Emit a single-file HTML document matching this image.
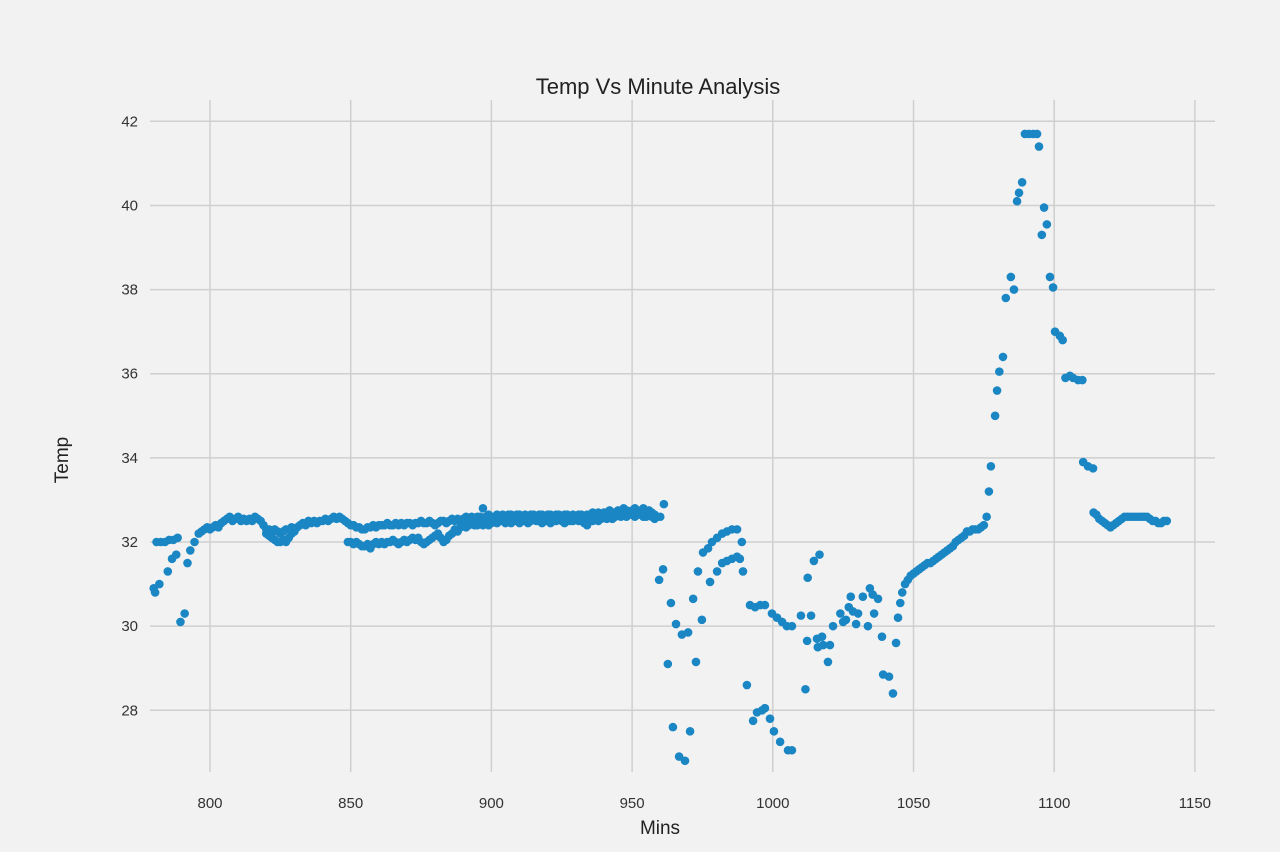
<!DOCTYPE html>
<html><head><meta charset="utf-8"><style>
html,body{margin:0;padding:0;background:#f2f2f2;}
svg{display:block;font-family:"Liberation Sans","DejaVu Sans",sans-serif;}
</style></head><body>
<svg id="chart" width="1280" height="852" viewBox="0 0 1280 852" xmlns="http://www.w3.org/2000/svg">
<rect width="1280" height="852" fill="#f2f2f2"/>
<g id="grid"></g>
<g id="ticks"></g>
<g id="points"></g>
<text x="658" y="94" text-anchor="middle" font-size="22" fill="#222">Temp Vs Minute Analysis</text>
<text x="660" y="834" text-anchor="middle" font-size="19" fill="#222">Mins</text>
<text x="68" y="460" text-anchor="middle" font-size="19" fill="#222" transform="rotate(-90 68 460)">Temp</text>
</svg>
<script>
const xTicks=[800,850,900,950,1000,1050,1100,1150];
const yTicks=[28,30,32,34,36,38,40,42];
const upperStart=797;
const upperTemps=[32.25,32.3,32.35,32.3,32.35,32.4,32.35,32.45,32.5,32.55,
32.6,32.5,32.55,32.6,32.5,32.55,32.5,32.55,32.5,32.6,
32.55,32.5,32.4,32.3,32.3,32.25,32.3,32.25,32.2,32.25,
32.3,32.3,32.35,32.3,32.35,32.4,32.45,32.4,32.5,32.45,
32.5,32.45,32.5,32.5,32.55,32.5,32.55,32.6,32.55,32.6,
32.55,32.5,32.45,32.4,32.4,32.35,32.35,32.3,32.3,32.35,
32.35,32.4,32.35,32.4,32.4,32.4,32.45,32.4,32.4,32.45,
32.4,32.45,32.4,32.45,32.45,32.4,32.45,32.45,32.5,32.45,
32.45,32.5,32.45,32.4,32.45,32.5,32.5,32.45,32.5,32.55,
32.5,32.55,32.5,32.55,32.6,32.55,32.6,32.55,32.6,32.6,
32.8,32.6,32.65,32.6,32.6,32.65,32.6,32.65,32.6,32.65,
32.65,32.6,32.65,32.65,32.6,32.65,32.6,32.65,32.65,32.6,
32.65,32.65,32.6,32.65,32.65,32.6,32.65,32.65,32.6,32.65,
32.65,32.6,32.65,32.6,32.65,32.65,32.6,32.65,32.6,32.7,
32.65,32.7,32.65,32.7,32.7,32.75,32.7,32.7,32.75,32.7,
32.8,32.75,32.7,32.75,32.8,32.7,32.75,32.8,32.7,32.75,
32.7,32.65,32.6,32.6];
const dipStart=820;
const dipTemps=[32.2,32.15,32.1,32.05,32.0,32.0,32.05,32.0,32.1,32.2,32.25];
const lowerStart=849;
const lowerTemps=[32.0,32.0,31.95,32.0,31.95,31.9,31.9,31.95,31.85,31.95,
32.0,31.95,32.0,31.95,32.0,32.0,32.05,32.0,31.95,32.0,
32.05,32.0,32.05,32.1,32.05,32.1,32.0,31.95,32.0,32.05,
32.1,32.15,32.2,32.1,32.0,32.05,32.15,32.2,32.3,32.25,
32.35,32.4,32.35,32.4,32.45,32.4,32.4,32.45,32.4,32.45,
32.4,32.45,32.5,32.45,32.5,32.5,32.45,32.5,32.45,32.5,
32.5,32.45,32.5,32.5,32.45,32.5,32.55,32.5,32.5,32.45,
32.5,32.5,32.45,32.5,32.5,32.55,32.5,32.45,32.5,32.5,
32.5,32.55,32.5,32.5,32.45,32.4,32.5,32.5,32.55,32.5,
32.55,32.6,32.55,32.6,32.55,32.6,32.65,32.6,32.65,32.6,
32.7,32.65,32.6,32.7,32.65,32.6,32.6,32.65,32.6,32.55];
const rampStart=1046;
const rampTemps=[30.8,31.0,31.1,31.2,31.25,31.3,31.35,31.4,31.45,31.5,
31.5,31.55,31.6,31.65,31.7,31.75,31.8,31.85,31.9,32.0,
32.05,32.1,32.15,32.25,32.25,32.3,32.3,32.3,32.35,32.4];
const tailStart=1114;
const tailTemps=[32.7,32.65,32.55,32.5,32.45,32.4,32.35,32.4,32.45,32.5,32.55,32.6,32.6,32.6,32.6,32.6,32.6,32.6,32.6,32.6,32.55,32.5,32.5,32.45,32.45,32.5,32.5];
const sparseMins=[780,780.5,782,785,786.5,788,781,782.5,784,785.5,787,788.5,789.5,791,792,793,794.5,796,
961.3,961,959.6,963.8,962.7,965.6,967.7,969.9,964.5,970.6,966.7,968.8,971.7,974.8,972.7,973.4,
975.2,977,978.4,980.2,982,983.7,985.5,987.3,989,977.7,980.2,982,983.7,985.5,987.3,988.3,989.4,990.8,
991.9,993.7,995.5,997.2,999.7,1001.5,1003.3,1005,1006.8,993,994.4,996.2,997.2,999,1000.4,1002.6,1005.4,1006.8,
1010,1011.6,1012.4,1014.6,1016.6,1013.6,1012.2,1015.7,1017.5,1016,1017.9,1020.3,1019.6,1021.4,1024,1025,1026,
1027.7,1027,1028.5,1030.3,1029.6,1032,1034.5,1035.5,1037.4,1033.8,1036,1038.8,1039.2,1041.3,1042.7,1043.8,1044.5,1045.3,
1076,1076.8,1077.5,1079,1079.7,1080.5,1081.8,1082.8,1085.7,1084.6,1086.8,1087.5,1088.6,1089.6,1091,1092.5,1093.9,1094.6,
1095.6,1096.4,1097.4,1098.5,1099.6,1100.3,1102,1103,1104,1105.6,1106.7,1108.5,1110,1110.3,1112,1113.8];
const sparseTemps=[30.9,30.8,31.0,31.3,31.6,31.7,32.0,32.0,32.0,32.05,32.05,32.1,30.1,30.3,31.5,31.8,32.0,32.2,
32.9,31.35,31.1,30.55,29.1,30.05,29.8,29.85,27.6,27.5,26.9,26.8,30.65,30.15,29.15,31.3,
31.75,31.85,32.0,32.1,32.2,32.25,32.3,32.3,32.0,31.05,31.3,31.5,31.55,31.6,31.65,31.6,31.3,28.6,
30.5,30.45,30.5,30.5,30.3,30.2,30.1,30.0,30.0,27.75,27.95,28.0,28.05,27.8,27.5,27.25,27.05,27.05,
30.25,28.5,31.15,31.55,31.7,30.25,29.65,29.7,29.75,29.5,29.55,29.55,29.15,30.0,30.3,30.1,30.15,
30.7,30.45,30.35,30.3,30.05,30.7,30.9,30.75,30.65,30.0,30.3,29.75,28.85,28.8,28.4,29.6,30.2,30.55,
32.6,33.2,33.8,35.0,35.6,36.05,36.4,37.8,38.0,38.3,40.1,40.3,40.55,41.7,41.7,41.7,41.7,41.4,
39.3,39.95,39.55,38.3,38.05,37.0,36.9,36.8,35.9,35.95,35.9,35.85,35.85,33.9,33.8,33.75];

const NS='http://www.w3.org/2000/svg';
const plotLeft=150,plotRight=1215,plotTop=100,plotBottom=772;
function xs(m){return 210+(m-800)*2.814;}
function ys(t){return 542-(t-32)*42.07;}
const gridG=document.getElementById('grid'),ticksG=document.getElementById('ticks'),ptsG=document.getElementById('points');
xTicks.forEach(v=>{
  const l=document.createElementNS(NS,'line');
  l.setAttribute('x1',xs(v));l.setAttribute('x2',xs(v));l.setAttribute('y1',plotTop);l.setAttribute('y2',plotBottom);
  l.setAttribute('stroke','#cfcfcf');l.setAttribute('stroke-width','1.5');
  
  
  gridG.appendChild(l);
  const t=document.createElementNS(NS,'text');
  t.setAttribute('x',xs(v));t.setAttribute('y',808);t.setAttribute('text-anchor','middle');
  t.setAttribute('font-size','15');t.setAttribute('fill','#333');t.textContent=v;
  
  
  ticksG.appendChild(t);
});
yTicks.forEach(v=>{
  const l=document.createElementNS(NS,'line');
  l.setAttribute('x1',plotLeft);l.setAttribute('x2',plotRight);l.setAttribute('y1',ys(v));l.setAttribute('y2',ys(v));
  l.setAttribute('stroke','#cfcfcf');l.setAttribute('stroke-width','1.5');
  
  
  gridG.appendChild(l);
  const t=document.createElementNS(NS,'text');
  t.setAttribute('x',138);t.setAttribute('y',ys(v)+5);t.setAttribute('text-anchor','end');
  t.setAttribute('font-size','15');t.setAttribute('fill','#333');t.textContent=v;
  
  
  ticksG.appendChild(t);
});
function dot(m,t){
  const c=document.createElementNS(NS,'circle');
  c.setAttribute('cx',xs(m));c.setAttribute('cy',ys(t));c.setAttribute('r','4.3');c.setAttribute('fill','#1a86c4');
  
  
  ptsG.appendChild(c);
}
[[upperStart,upperTemps],[dipStart,dipTemps],[lowerStart,lowerTemps],[rampStart,rampTemps],[tailStart,tailTemps]].forEach(([s,arr])=>arr.forEach((t,i)=>dot(s+i,t)));
sparseMins.forEach((m,i)=>dot(m,sparseTemps[i]));
</script>
</body></html>
